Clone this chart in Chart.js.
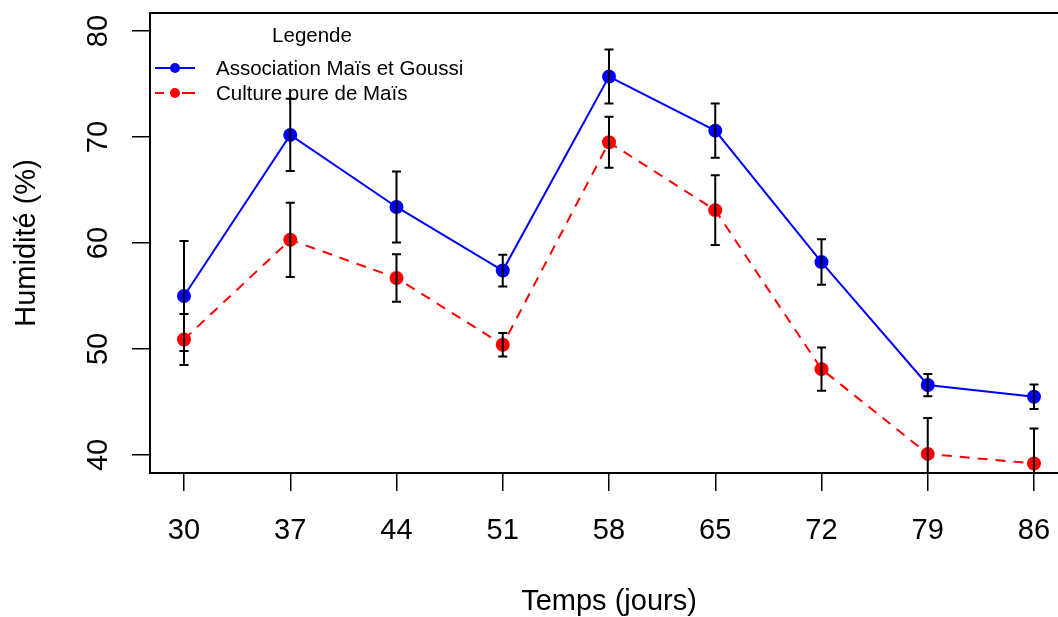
<!DOCTYPE html>
<html lang="fr">
<head>
    <meta charset="UTF-8">
    <title>Humidité</title>
    <script src="https://cdn.jsdelivr.net/npm/chart.js"></script>
    <style>
        body {
            margin: 0;
            padding: 0;
            background: #ffffff;
            overflow: hidden;
        }
        .chart-container {
            position: relative;
            width: 1075px;
            height: 617px;
        }
    </style>
</head>
<body>
    <div class="chart-container">
        <canvas id="humChart"></canvas>
    </div>

    <script>
        // Jours de mesure
        const jours = [30, 37, 44, 51, 58, 65, 72, 79, 86];
        const yTicks = [40, 50, 60, 70, 80];

        // Association Maïs et Goussi (moyenne et erreur)
        const association = [55.0, 70.2, 63.4, 57.4, 75.7, 70.6, 58.2, 46.6, 45.5];
        const associationErr = [5.2, 3.4, 3.35, 1.5, 2.55, 2.55, 2.15, 1.05, 1.15];

        // Culture pure de Maïs
        const culturePure = [50.9, 60.3, 56.7, 50.4, 69.5, 63.1, 48.1, 40.1, 39.2];
        const culturePureErr = [2.4, 3.5, 2.25, 1.1, 2.4, 3.3, 2.05, 3.4, 3.3];

        const FONT = "'Liberation Sans', Arial, sans-serif";

        const errorBars = {
            id: 'errorBars',
            afterDatasetsDraw(chart) {
                const {ctx, chartArea, scales: {x, y}} = chart;
                const errs = [associationErr, culturePureErr];
                ctx.save();
                ctx.beginPath();
                ctx.rect(chartArea.left, chartArea.top, chartArea.right - chartArea.left, chartArea.bottom - chartArea.top);
                ctx.clip();
                ctx.strokeStyle = '#000';
                ctx.lineWidth = 2;
                chart.data.datasets.forEach((ds, i) => {
                    ds.data.forEach((pt, j) => {
                        const px = x.getPixelForValue(pt.x);
                        const top = y.getPixelForValue(pt.y + errs[i][j]);
                        const bot = y.getPixelForValue(pt.y - errs[i][j]);
                        ctx.beginPath();
                        ctx.moveTo(px, top); ctx.lineTo(px, bot);
                        ctx.moveTo(px - 4.5, top); ctx.lineTo(px + 4.5, top);
                        ctx.moveTo(px - 4.5, bot); ctx.lineTo(px + 4.5, bot);
                        ctx.stroke();
                    });
                });
                ctx.restore();
            }
        };

        // cadre + légende façon R
        const boxLegend = {
            id: 'boxLegend',
            afterDraw(chart) {
                const {ctx, chartArea: a} = chart;
                ctx.save();
                ctx.strokeStyle = '#000';
                ctx.lineWidth = 2;
                ctx.strokeRect(a.left, a.top, a.right - a.left, a.bottom - a.top);

                ctx.font = '20.5px ' + FONT;
                ctx.fillStyle = '#000';
                ctx.textBaseline = 'middle';
                ctx.textAlign = 'center';
                ctx.fillText('Legende', 312, 36);
                ctx.textAlign = 'left';
                chart.data.datasets.forEach((ds, i) => {
                    const ly = 68 + i * 25;
                    ctx.strokeStyle = ds.borderColor;
                    ctx.lineWidth = 2;
                    ctx.beginPath();
                    if (ds.borderDash) {
                        ctx.moveTo(155, ly); ctx.lineTo(164, ly);
                        ctx.moveTo(182, ly); ctx.lineTo(195, ly);
                    } else {
                        ctx.moveTo(155, ly); ctx.lineTo(195, ly);
                    }
                    ctx.stroke();
                    ctx.fillStyle = ds.borderColor;
                    ctx.beginPath();
                    ctx.arc(175, ly, 5, 0, Math.PI * 2);
                    ctx.fill();
                    ctx.fillStyle = '#000';
                    ctx.fillText(ds.label, 216, ly + 1);
                });
                ctx.restore();
            }
        };

        const toPoints = vals => vals.map((v, i) => ({x: jours[i], y: v}));

        const data = {
            datasets: [{
                label: 'Association Maïs et Goussi',
                data: toPoints(association),
                borderColor: '#0000ff',
                backgroundColor: '#0000ff',
                borderWidth: 2,
                pointRadius: 7,
                pointBorderWidth: 0,
                pointBackgroundColor: '#0000ff',
                tension: 0
            }, {
                label: 'Culture pure de Maïs',
                data: toPoints(culturePure),
                borderColor: '#ff0000',
                backgroundColor: '#ff0000',
                borderWidth: 2,
                borderDash: [10, 8],
                pointRadius: 7,
                pointBorderWidth: 0,
                pointBackgroundColor: '#ff0000',
                tension: 0
            }]
        };

        const config = {
            type: 'line',
            data: data,
            plugins: [errorBars, boxLegend],
            options: {
                responsive: true,
                maintainAspectRatio: false,
                animation: false,
                layout: { padding: { top: 13, right: 2, left: 0, bottom: 0 } },
                plugins: {
                    legend: { display: false },
                    tooltip: { enabled: false }
                },
                scales: {
                    x: {
                        type: 'linear',
                        position: 'bottom',
                        min: 27.76,
                        max: 88.24,
                        afterBuildTicks: s => { s.ticks = jours.map(v => ({value: v})); },
                        afterFit: s => { s.height = 144; s.paddingLeft = 0; s.paddingRight = 0; },
                        border: { display: false },
                        grid: { drawOnChartArea: false, drawTicks: true, tickLength: 18, color: '#000', lineWidth: 1.5 },
                        ticks: { color: '#000', font: { family: FONT, size: 29 }, padding: 23, maxRotation: 0, autoSkip: false },
                        title: { display: true, text: 'Temps (jours)', color: '#000', font: { family: FONT, size: 29, lineHeight: 1 }, padding: { top: 0, bottom: 1 } }
                    },
                    y: {
                        min: 38.3,
                        max: 81.7,
                        afterBuildTicks: s => { s.ticks = yTicks.map(v => ({value: v})); },
                        afterFit: s => { s.width = 150; s.paddingTop = 0; s.paddingBottom = 0; },
                        border: { display: false },
                        grid: { drawOnChartArea: false, drawTicks: true, tickLength: 18, color: '#000', lineWidth: 1.5 },
                        ticks: { color: '#000', font: { family: FONT, size: 29 }, padding: 17, minRotation: 90, maxRotation: 90, crossAlign: 'center' },
                        title: { display: true, text: 'Humidité (%)', color: '#000', font: { family: FONT, size: 29, lineHeight: 1 }, padding: { top: 12, bottom: 0 } }
                    }
                }
            }
        };

        new Chart(document.getElementById('humChart'), config);
    </script>
</body>
</html>
